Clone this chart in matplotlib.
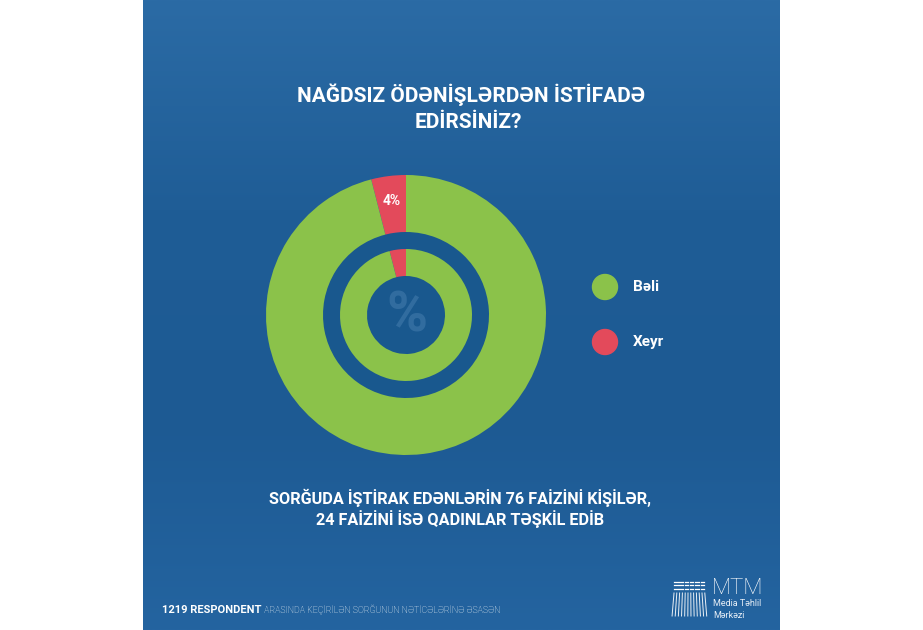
import numpy as np
import matplotlib.pyplot as plt
from matplotlib.colors import LinearSegmentedColormap
from matplotlib.patches import Circle

# survey answers (outer ring = all respondents, inner ring repeats the split)
answers = ['Xeyr', 'Bəli']
outer_pct = [4, 96]
inner_pct = [4, 96]
legend_labels = ['Bəli', 'Xeyr']

title_1 = 'NAĞDSIZ ÖDƏNİŞLƏRDƏN İSTİFADƏ'
title_2 = 'EDİRSİNİZ?'
note_1 = 'SORĞUDA İŞTİRAK EDƏNLƏRİN 76 FAİZİNİ KİŞİLƏR,'
note_2 = '24 FAİZİNİ İSƏ QADINLAR TƏŞKİL EDİB'
footer_bold = '1219 RESPONDENT'
footer_rest = ' ARASINDA KEÇİRİLƏN SORĞUNUN NƏTİCƏLƏRİNƏ ƏSASƏN'

green = '#8bc24a'
red = '#e34a5b'
colors = {'Bəli': green, 'Xeyr': red}

plt.rcParams['font.family'] = ['Roboto', 'DejaVu Sans']

fig = plt.figure(figsize=(9.23, 6.30), dpi=100)
ax = fig.add_axes([0, 0, 1, 1])

# blue panel with a soft vertical gradient
cmap = LinearSegmentedColormap.from_list('bg', ['#2b6ba5', '#1f5d96', '#1d5a93', '#2464a0'])
grad = np.linspace(0, 1, 256).reshape(-1, 1)
ax.imshow(grad, extent=[143, 780, 0, 630], cmap=cmap, aspect='auto', origin='upper', zorder=0)

cx, cy = 406, 315
# darker hole behind the rings
ax.add_patch(Circle((cx, cy), 84, color='#19588e', zorder=1))

def pct_label(p):
    return f'{p:.0f}%' if p < 50 else ''

wedges, texts, autotexts = ax.pie(
    outer_pct, colors=[colors[a] for a in answers], startangle=90, counterclock=True,
    radius=140, center=(cx, cy), wedgeprops=dict(width=57, linewidth=0),
    autopct=pct_label, pctdistance=0.82,
    textprops=dict(color='white', fontsize=10, fontweight='bold'))
for w in wedges:
    w.set_zorder(2)
for t in autotexts:
    t.set_zorder(3)

wedges2, _ = ax.pie(
    inner_pct, colors=[colors[a] for a in answers], startangle=90, counterclock=True,
    radius=66, center=(cx, cy), wedgeprops=dict(width=27, linewidth=0))
for w in wedges2:
    w.set_zorder(2)

ax.text(cx + 1, cy - 2, '%', ha='center', va='center', fontsize=40, fontweight='bold',
        color='#6a9cc8', alpha=0.3, zorder=3)

# legend
for i, lab in enumerate(legend_labels):
    y = 343 - i * 55
    ax.add_patch(Circle((605, y), 12.5, color=colors[lab], zorder=3))
    ax.text(633, y, lab, ha='left', va='center', fontsize=11, fontweight='bold',
            color='white', zorder=3)

# titles
ax.text(471, 535, title_1, ha='center', va='center', fontsize=15, fontweight='bold', color='white')
ax.text(468, 507, title_2, ha='center', va='center', fontsize=15, fontweight='bold', color='white')
ax.text(460, 132, note_1, ha='center', va='center', fontsize=11.7, fontweight='bold', color='white')
ax.text(460, 111, note_2, ha='center', va='center', fontsize=11.7, fontweight='bold', color='white')

# footer
fb = ax.text(162, 20, footer_bold, ha='left', va='center', fontsize=8, fontweight='bold', color='white')
ax.annotate(footer_rest, xy=(1, 0.5), xycoords=fb, ha='left', va='center',
            fontsize=6.3, fontweight='light', color='white')

# MTM logo
for r in range(3):
    for c in range(6):
        x0 = 674 + c * 5.3
        ax.plot([x0, x0 + 3.5], [48 - r * 3.3, 48 - r * 3.3], color='white', lw=0.9)
for c in range(12):
    x0 = 674 + c * 2.8
    dx = (c - 5.5) * 0.35
    ax.plot([x0, x0 + dx], [37, 14], color='white', lw=0.7, alpha=0.9)
ax.text(712, 41, 'MTM', ha='left', va='center', fontsize=16, fontweight='light', color='white')
ax.text(713, 26, 'Media Təhlil', ha='left', va='center', fontsize=6.5, color='#e6eef6')
ax.text(713, 15, 'Mərkəzi', ha='left', va='center', fontsize=6.5, color='#e6eef6')

ax.set_xlim(0, 923)
ax.set_ylim(0, 630)
ax.set_aspect('auto')
ax.axis('off')

fig.savefig('out.png', dpi=100, facecolor='white')
